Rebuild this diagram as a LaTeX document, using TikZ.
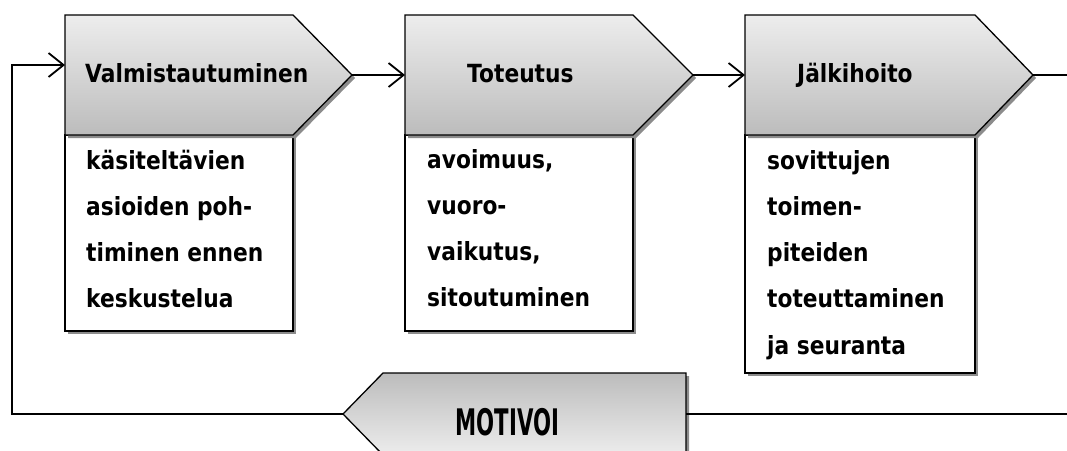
\documentclass[tikz,border=0pt]{standalone}
\usepackage{fontspec}
\setmainfont{DejaVu Sans}[FakeStretch=0.87]
\usetikzlibrary{arrows.meta,shadows}

% lines of a description, first baseline is the box baseline
\newcommand\linesbox[1]{\vtop{\baselineskip=46.3pt\lineskiplimit=-60pt\lineskip=0pt #1}}

\definecolor{shadeLight}{RGB}{237,237,237}
\definecolor{shadeDark}{RGB}{188,188,188}

\begin{document}
\begin{tikzpicture}[x=1pt,y=-1pt,
  boxshadow/.style={drop shadow={shadow xshift=3pt,shadow yshift=-3pt,fill=black!45,opacity=1}},
  stage/.style={draw=black,line width=1.3pt,top color=shadeLight,bottom color=shadeDark,boxshadow},
  backstage/.style={draw=black,line width=1.3pt,top color=shadeDark,bottom color=shadeLight,boxshadow},
  descbox/.style={draw=black,line width=1.3pt,fill=white,boxshadow},
  title/.style={anchor=base west,inner sep=0pt,font=\fontsize{25}{30}\selectfont\bfseries},
  desc/.style={anchor=base west,inner sep=0pt,font=\fontsize{25}{30}\selectfont\bfseries},
  flow/.style={line width=1.8pt},
  flowarrow/.style={flow,-{Straight Barb[length=15pt,width=24pt,line width=1.8pt]}}
]
\useasboundingbox (0,0) rectangle (1067,450);

% description boxes (drawn first, the stage shapes overlap their tops)
\draw[descbox] (65,135) rectangle (293,331);
\draw[descbox] (405,135) rectangle (633,331);
\draw[descbox] (745,135) rectangle (975,373);

% stage shapes
\draw[stage] (65,15) -- (293,15) -- (352,75) -- (293,135) -- (65,135) -- cycle;
\draw[stage] (405,15) -- (633,15) -- (693,75) -- (633,135) -- (405,135) -- cycle;
\draw[stage] (745,15) -- (975,15) -- (1033,75) -- (975,135) -- (745,135) -- cycle;
\draw[backstage] (686,373) -- (383,373) -- (343,414) -- (383,455) -- (686,455) -- cycle;

% connection points
\coordinate (in1) at (65,65);
\coordinate (tip1) at (352,75);
\coordinate (in2) at (405,75);
\coordinate (tip2) at (693,75);
\coordinate (in3) at (745,75);
\coordinate (tip3) at (1033,75);
\coordinate (outTop) at (1067,75);
\coordinate (backTip) at (343,414);
\coordinate (backRight) at (686,414);
\coordinate (outBottom) at (1067,414);
\coordinate (loopLow) at (12,414);
\coordinate (loopHigh) at (12,65);

% titles
\node[title] (t1) at (85,82) {Valmistautuminen};
\node[title] (t2) at (467,82) {Toteutus};
\node[title] (t3) at (797,82) {Jälkihoito};
\node[anchor=base,inner sep=0pt] (t4) at (507.5,435)
  {\scalebox{0.667}[1]{\fontsize{36.6}{40}\selectfont\bfseries MOTIVOI}};

% descriptions
\node[desc] (d1) at (86,169) {\linesbox{\hbox{käsiteltävien}\hbox{asioiden poh-}\hbox{timinen ennen}\hbox{keskustelua}}};
\node[desc] (d2) at (427,168) {\linesbox{\hbox{avoimuus,}\hbox{vuoro-}\hbox{vaikutus,}\hbox{sitoutuminen}}};
\node[desc] (d3) at (767,169) {\linesbox{\hbox{sovittujen}\hbox{toimen-}\hbox{piteiden}\hbox{toteuttaminen}\hbox{ja seuranta}}};

% connectors
\draw[flowarrow] (tip1) -- (in2);
\draw[flowarrow] (tip2) -- (in3);
\draw[flow] (tip3) -- (outTop);
\draw[flow] (backRight) -- (outBottom);
\draw[flowarrow] (backTip) -- (loopLow) -- (loopHigh) -- (in1);
\end{tikzpicture}
\end{document}
